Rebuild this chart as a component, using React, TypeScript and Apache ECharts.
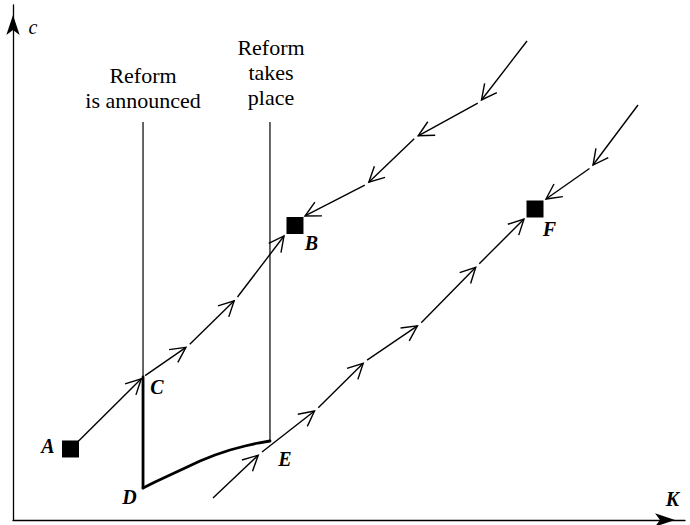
import React, { useEffect, useRef } from "react";
import * as echarts from "echarts";

// Axis ranges (capital K horizontally, consumption c vertically)
const K_RANGE = [0, 100];
const C_RANGE = [0, 100];

// Steady states: [K, c]
const pointA = [8.56, 13.79];
const pointB = [41.96, 57.18];
const pointF = [77.68, 60.39];

// Trajectories: each consecutive pair is one arrowed segment
const pathAtoB = [
  [8.56, 13.79],
  [19.35, 27.77],
  [26.04, 33.79],
  [33.18, 42.91],
  [40.33, 55.15],
];
const pathIntoBFromAbove = [
  [76.49, 93.01],
  [69.49, 81.17],
  [59.97, 74.37],
  [52.68, 65.24],
  [43.45, 59.03],
];
const pathEtoF = [
  [29.76, 4.27],
  [36.76, 12.91],
  [45.16, 21.46],
  [52.38, 30.78],
  [60.49, 37.96],
  [69.12, 49.42],
  [76.04, 58.45],
];
const pathIntoFFromAbove = [
  [93.01, 80.58],
  [86.09, 68.54],
  [79.32, 62.33],
];

// Vertical markers: announcement and the reform itself
const announceLine = [
  [19.35, 77.28],
  [19.35, 27.77],
];
const reformLine = [
  [38.24, 77.28],
  [38.24, 15.34],
];
// Jump C -> D and adjustment D -> E
const jumpCD = [
  [19.35, 27.77],
  [19.35, 6.21],
];
const curveDE = [
  [19.35, 6.21],
  [21.13, 7.38],
  [23.36, 8.74],
  [25.6, 10.1],
  [27.83, 11.46],
  [30.06, 12.62],
  [32.29, 13.59],
  [34.52, 14.37],
  [36.46, 14.95],
  [38.24, 15.34],
];

const trajectories = [pathAtoB, pathIntoBFromAbove, pathEtoF, pathIntoFFromAbove];

function buildSegments() {
  const segs: number[][] = [];
  trajectories.forEach((p) => {
    for (let i = 0; i < p.length - 1; i++) {
      segs.push([
        p[i][0],
        p[i][1],
        p[i + 1][0],
        p[i + 1][1],
        i === 0 ? 0 : 1,
        i === p.length - 2 ? 0 : 1,
      ]);
    }
  });
  return segs;
}

function label(text: string, x: number, y: number, italicOnly = false) {
  return {
    type: "text",
    x,
    y,
    silent: true,
    style: {
      text,
      fill: "#000",
      font: (italicOnly ? "italic " : "italic bold ") + "20px 'Liberation Serif', serif",
      align: "center",
      verticalAlign: "middle",
    },
  };
}

export default function App() {
  const ref = useRef<HTMLDivElement>(null);

  useEffect(() => {
    if (!ref.current) return;
    const chart = echarts.init(ref.current, undefined, { renderer: "svg" });

    const axisCommon = {
      type: "value",
      axisTick: { show: false },
      axisLabel: { show: false },
      splitLine: { show: false },
      axisLine: {
        show: true,
        onZero: false,
        symbol: ["none", "arrow"],
        symbolSize: [10, 20],
        symbolOffset: [0, -10],
        lineStyle: { color: "#000", width: 1.3 },
      },
    };

    const stroke = "#000";

    chart.setOption({
      animation: false,
      backgroundColor: "#fff",
      grid: { left: 13, right: 5, top: 5, bottom: 5, containLabel: false },
      xAxis: { ...axisCommon, min: K_RANGE[0], max: K_RANGE[1] },
      yAxis: { ...axisCommon, min: C_RANGE[0], max: C_RANGE[1] },
      series: [
        {
          type: "line",
          data: announceLine,
          symbol: "none",
          silent: true,
          lineStyle: { color: stroke, width: 1.2 },
        },
        {
          type: "line",
          data: reformLine,
          symbol: "none",
          silent: true,
          lineStyle: { color: stroke, width: 1.2 },
        },
        {
          type: "line",
          data: jumpCD,
          symbol: "none",
          silent: true,
          lineStyle: { color: stroke, width: 2.8, cap: "round" },
        },
        {
          type: "line",
          data: curveDE,
          symbol: "none",
          smooth: false,
          silent: true,
          lineStyle: { color: stroke, width: 2.8, cap: "round", join: "round" },
        },
        {
          type: "custom",
          silent: true,
          data: buildSegments(),
          renderItem: (params: any, api: any) => {
            const p1 = api.coord([api.value(0), api.value(1)]);
            const p2 = api.coord([api.value(2), api.value(3)]);
            const gs = api.value(4) ? 2.5 : 0;
            const ge = api.value(5) ? 2.5 : 0;
            const dx = p2[0] - p1[0];
            const dy = p2[1] - p1[1];
            const len = Math.hypot(dx, dy) || 1;
            const ux = dx / len;
            const uy = dy / len;
            const s = [p1[0] + ux * gs, p1[1] + uy * gs];
            const e = [p2[0] - ux * ge, p2[1] - uy * ge];
            const back = Math.atan2(-uy, -ux);
            const L = 17;
            const a = (27 * Math.PI) / 180;
            const arm1 = [e[0] + L * Math.cos(back + a), e[1] + L * Math.sin(back + a)];
            const arm2 = [e[0] + L * Math.cos(back - a), e[1] + L * Math.sin(back - a)];
            return {
              type: "group",
              children: [
                {
                  type: "line",
                  shape: { x1: s[0], y1: s[1], x2: e[0], y2: e[1] },
                  style: { stroke, lineWidth: 1.4 },
                },
                {
                  type: "polyline",
                  shape: { points: [arm1, e, arm2] },
                  style: { stroke, lineWidth: 1.4, fill: null },
                },
              ],
            };
          },
        },
        {
          type: "scatter",
          data: [pointA, pointB, pointF],
          symbol: "rect",
          symbolSize: 17,
          silent: true,
          z: 5,
          itemStyle: { color: "#000", opacity: 1 },
        },
      ],
      graphic: [
        {
          type: "text",
          x: 143,
          y: 87.5,
          silent: true,
          style: {
            text: "Reform\nis announced",
            fill: "#000",
            font: "22px 'Liberation Serif', serif",
            lineHeight: 25,
            align: "center",
            verticalAlign: "middle",
          },
        },
        {
          type: "text",
          x: 271,
          y: 72,
          silent: true,
          style: {
            text: "Reform\ntakes\nplace",
            fill: "#000",
            font: "22px 'Liberation Serif', serif",
            lineHeight: 25,
            align: "center",
            verticalAlign: "middle",
          },
        },
        label("A", 48, 445.5),
        label("C", 157, 386.5),
        label("D", 129.5, 496.5),
        label("E", 285, 458.5),
        label("B", 311.5, 242.5),
        label("F", 549.5, 229),
        label("K", 672.5, 499),
        label("c", 33, 27, true),
      ],
    });

    return () => chart.dispose();
  }, []);

  return (
    <div
      ref={ref}
      style={{ position: "absolute", left: 0, top: 0, width: 690, height: 525 }}
    />
  );
}
